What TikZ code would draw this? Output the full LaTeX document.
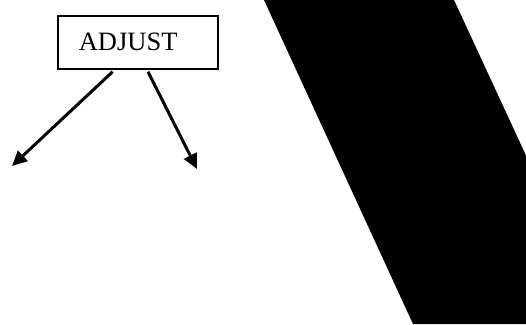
\documentclass[tikz,border=0pt]{standalone}
\usepackage{fontspec}
\setmainfont{Liberation Serif}
\usetikzlibrary{arrows.meta,calc}
\tikzset{
  labelbox/.style={draw=black, line width=1.7pt, anchor=north west,
    minimum width=160pt, minimum height=53pt, inner xsep=21pt,
    text width=118pt, align=left, font=\fontsize{26.5}{30}\selectfont},
  branch/.style={line width=3pt, -{Triangle[length=15pt,width=14pt]}},
  band/.style={fill=black, draw=none}
}
\begin{document}
\begin{tikzpicture}[x=1pt,y=-1pt]
  \useasboundingbox (0,0) rectangle (526,324);
  % slanted black band on the right
  \begin{scope}
    \clip (0,0) rectangle (526,324);
    \fill[band] (264,0) -- (454,0) -- (604,324) -- (413,324) -- cycle;
  \end{scope}
  % labelled box
  \node[labelbox] (adjust) at (57,15) {ADJUST};
  % arrow ends
  \coordinate (leftend) at (12,166);
  \coordinate (rightend) at (197,169);
  \coordinate (leftstart) at ($(adjust.south west)!0.344!(adjust.south east)+(0,2)$);
  \coordinate (rightstart) at ($(adjust.south west)!0.5625!(adjust.south east)+(0,2)$);
  \draw[branch] (leftstart) -- (leftend);
  \draw[branch] (rightstart) -- (rightend);
\end{tikzpicture}
\end{document}
